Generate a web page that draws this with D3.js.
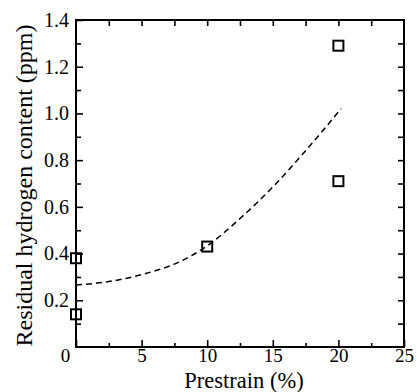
<!DOCTYPE html>
<html>
<head>
<meta charset="utf-8">
<script src="https://cdn.jsdelivr.net/npm/d3@7"></script>
<style>
  html, body { margin: 0; padding: 0; background: #fff; }
  svg { display: block; }
</style>
</head>
<body>
<svg id="chart" width="417" height="392"></svg>
<script>
// ---- data ----
const prestrain = [0, 0, 10, 20, 20];
const hydrogen = [0.38, 0.14, 0.43, 1.29, 0.71];
const fitX = [0, 2.5, 5, 7.5, 10, 12.5, 15, 17.5, 20.2];
const fitY = [0.265, 0.28, 0.31, 0.355, 0.433, 0.55, 0.685, 0.84, 1.02];
const xTicks = [0, 5, 10, 15, 20, 25];
const xMinor = [2.5, 7.5, 12.5, 17.5, 22.5];
const yTicks = [0.2, 0.4, 0.6, 0.8, 1.0, 1.2, 1.4];
const yMinor = [0.1, 0.3, 0.5, 0.7, 0.9, 1.1, 1.3];
const xTitle = "Prestrain (%)";
const yTitle = "Residual hydrogen content (ppm)";

// ---- layout ----
const FONT = "Liberation Serif, Tinos, Times New Roman, DejaVu Serif, serif";
const mLeft = 76, mRight = 404, mTop = 20, mBottom = 347;
const svg = d3.select("#chart");
const x = d3.scaleLinear().domain([0, 25]).range([mLeft, mRight]);
const y = d3.scaleLinear().domain([0, 1.4]).range([mBottom, mTop]);

function styleAxis(g) {
  g.attr("font-family", FONT).attr("font-size", 19);
  g.select(".domain").remove();
  g.selectAll(".tick line").attr("stroke", "#000").attr("stroke-width", 1.6);
  g.selectAll(".tick text").attr("font-family", FONT).attr("font-size", 19).attr("fill", "#000");
}

// bottom major
svg.append("g").attr("transform", `translate(0,${mBottom})`)
  .call(d3.axisBottom(x).tickValues(xTicks).tickSize(-7).tickPadding(1).tickFormat(d3.format("d")))
  .call(styleAxis)
  .call(g => g.selectAll(".tick text").filter(d => d === 0).attr("dx", -11));
// bottom minor
svg.append("g").attr("transform", `translate(0,${mBottom})`)
  .call(d3.axisBottom(x).tickValues(xMinor).tickSize(-4).tickFormat(""))
  .call(styleAxis);
// left major
svg.append("g").attr("transform", `translate(${mLeft},0)`)
  .call(d3.axisLeft(y).tickValues(yTicks).tickSize(-7).tickPadding(7).tickFormat(d3.format(".1f")))
  .call(styleAxis)
  .call(g => g.selectAll(".tick text").attr("font-size", 20));
// left minor
svg.append("g").attr("transform", `translate(${mLeft},0)`)
  .call(d3.axisLeft(y).tickValues(yMinor).tickSize(-5).tickFormat(""))
  .call(styleAxis);
// top ticks
svg.append("g").attr("transform", `translate(0,${mTop})`)
  .call(d3.axisTop(x).tickValues(xTicks.concat(xMinor).filter(v => v > 0 && v < 25)).tickSize(-6).tickFormat(""))
  .call(styleAxis);
// right ticks
svg.append("g").attr("transform", `translate(${mRight},0)`)
  .call(d3.axisRight(y).tickValues(yTicks.concat(yMinor).filter(v => v < 1.4)).tickSize(-6).tickFormat(""))
  .call(styleAxis);

// frame
svg.append("rect")
  .attr("x", mLeft).attr("y", mTop)
  .attr("width", mRight - mLeft).attr("height", mBottom - mTop)
  .attr("fill", "none").attr("stroke", "#000").attr("stroke-width", 2);

// fitted dashed curve
const line = d3.line().x((d, i) => x(fitX[i])).y(d => y(d)).curve(d3.curveMonotoneX);
svg.append("path")
  .attr("d", line(fitY))
  .attr("fill", "none").attr("stroke", "#000")
  .attr("stroke-width", 1.5).attr("stroke-dasharray", "6,4");

// square markers
const s = 10;
svg.append("g").selectAll("rect").data(hydrogen).join("rect")
  .attr("x", (d, i) => x(prestrain[i]) - s / 2)
  .attr("y", d => y(d) - s / 2)
  .attr("width", s).attr("height", s)
  .attr("fill", "none").attr("stroke", "#000").attr("stroke-width", 2);

// titles
svg.append("text")
  .attr("x", 244).attr("y", 387.5)
  .attr("text-anchor", "middle")
  .attr("font-family", FONT)
  .attr("font-size", 22.5)
  .text(xTitle);
svg.append("text")
  .attr("transform", `translate(32,${(mTop + mBottom) / 2 + 2}) rotate(-90)`)
  .attr("text-anchor", "middle")
  .attr("font-family", FONT)
  .attr("font-size", 24)
  .text(yTitle);
</script>
</body>
</html>
